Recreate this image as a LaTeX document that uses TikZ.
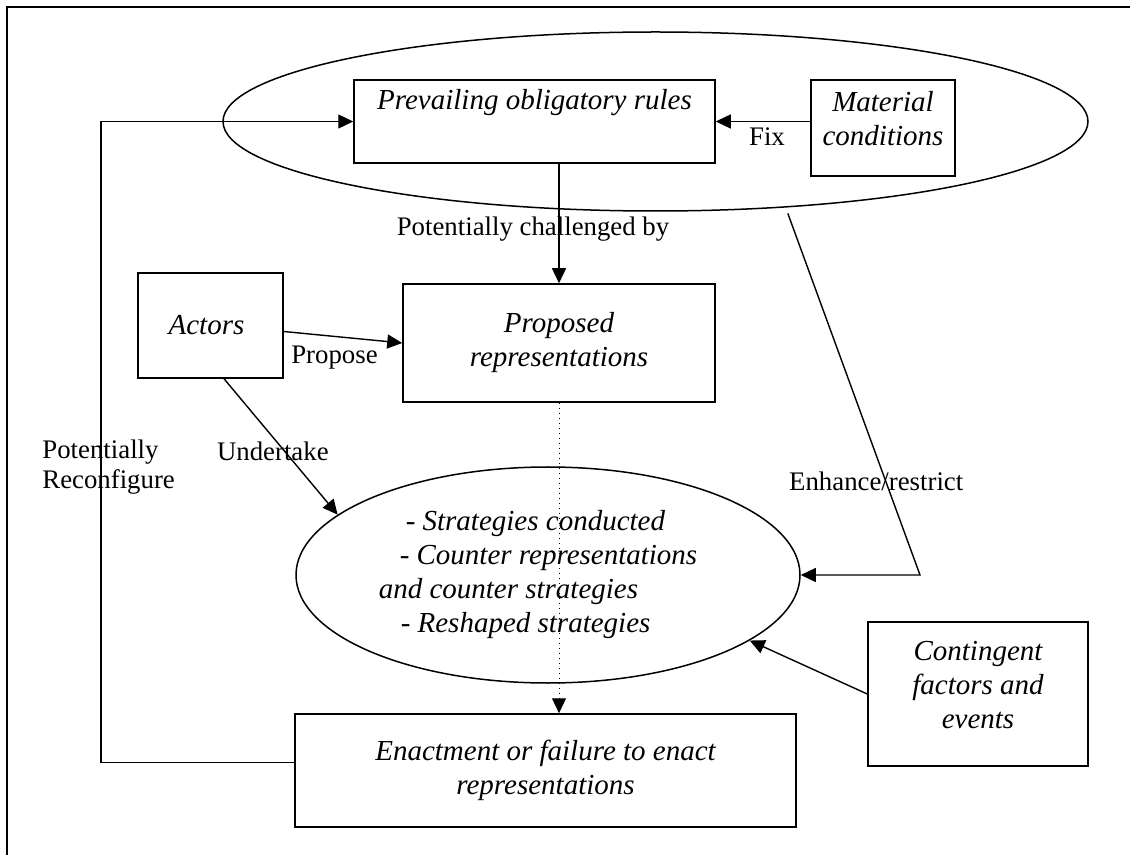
\documentclass[tikz,border=0pt]{standalone}
\usepackage{fontspec}
\setmainfont{Liberation Serif}
\usetikzlibrary{shapes.geometric,arrows.meta}

\tikzset{
  box/.style={draw, line width=0.75pt, inner sep=0pt, align=center, font=\itshape\fontsize{14.5}{17}\selectfont},
  boxtxt/.style={inner sep=0pt, align=center, font=\itshape\fontsize{14.5}{17}\selectfont},
  oval/.style={draw, ellipse, line width=0.75pt, inner sep=0pt},
  conn/.style={line width=0.7pt, -{Triangle[length=7.5pt,width=7pt]}},
  lbl/.style={font=\fontsize{13.4}{15}\selectfont, inner sep=0pt, align=left},
}

\begin{document}
\begin{tikzpicture}[x=0.5pt,y=-0.5pt]
\useasboundingbox (0,0) rectangle (1130,855) ;
\draw [line width=1pt] (1130,7.5) -- (7,7.5) -- (7,855) ;

% top: rules and conditions
\node [oval, minimum width=432.5pt, minimum height=89.5pt] (rules) at (655.5,121.5) {} ;
\node [box, minimum width=180.5pt, minimum height=41.5pt] (prevail) at (534.5,121.5) {Prevailing obligatory rules\\ \strut} ;
\node [box, minimum width=72pt, minimum height=48pt,
  label={[boxtxt, yshift=4.5pt]center:Material\\conditions}] (material) at (883,128) {} ;

% middle
\node [box, minimum width=72.5pt, minimum height=52.5pt,
  label={[boxtxt, xshift=-2pt]center:Actors}] (actors) at (210.5,325.5) {} ;
\node [box, minimum width=156pt, minimum height=59pt] (proposed) at (559,343) {Proposed\\representations} ;
\node [oval, align=left, font=\itshape\fontsize{14.5}{17}\selectfont, minimum width=252pt, minimum height=108pt] (strat) at (548,575)
  {\hspace*{13.5pt}- Strategies conducted\\\hspace*{10.5pt}- Counter representations\rule{10pt}{0pt}\\and counter strategies\\\hspace*{11pt}- Reshaped strategies} ;

% bottom
\node [box, minimum width=250.5pt, minimum height=56.5pt] (enact) at (545.5,770.5) {Enactment or failure to enact\\representations} ;
\node [box, minimum width=110pt, minimum height=72pt,
  label={[boxtxt, yshift=4.5pt]center:Contingent\\factors and\\events}] (cont) at (978,694) {} ;

\coordinate (fbtop) at (101,121.5) ;
\coordinate (bend) at (920,575) ;

% connectors
\draw [conn] (material.west |- prevail.east) -- node [lbl, midway, xshift=2pt, yshift=-7.75pt] {Fix} (prevail.east) ;
\draw [conn] (proposed.north |- prevail.south) -- node [lbl, midway, xshift=-13pt, yshift=-2.75pt] {Potentially challenged by} (proposed.north) ;
\draw [conn] ([yshift=-3pt]actors.east) -- node [lbl, midway, xshift=-4.25pt, yshift=-10pt] {Propose} (proposed.west) ;
\draw [conn] ([xshift=6.75pt]actors.south) -- node [lbl, pos=0.5, xshift=-4pt, yshift=-2.5pt] {Undertake} (strat.164) ;
\draw [conn] ([yshift=-3pt]rules.-33) -- node [lbl, pos=0.74, xshift=-4.7pt] {Enhance/restrict} (bend) -- (strat.east) ;
\draw [conn] (cont.west) -- (strat.-18) ;
\draw [conn, line width=0.5pt, dotted] (proposed.south) -- (proposed.south |- enact.north) ;
\draw [conn] ([yshift=4pt]enact.west) -| (fbtop) -- (prevail.west) ;
\node [lbl, anchor=west] (reconf) at (42,467) {Potentially\\Reconfigure} ;
\end{tikzpicture}
\end{document}
